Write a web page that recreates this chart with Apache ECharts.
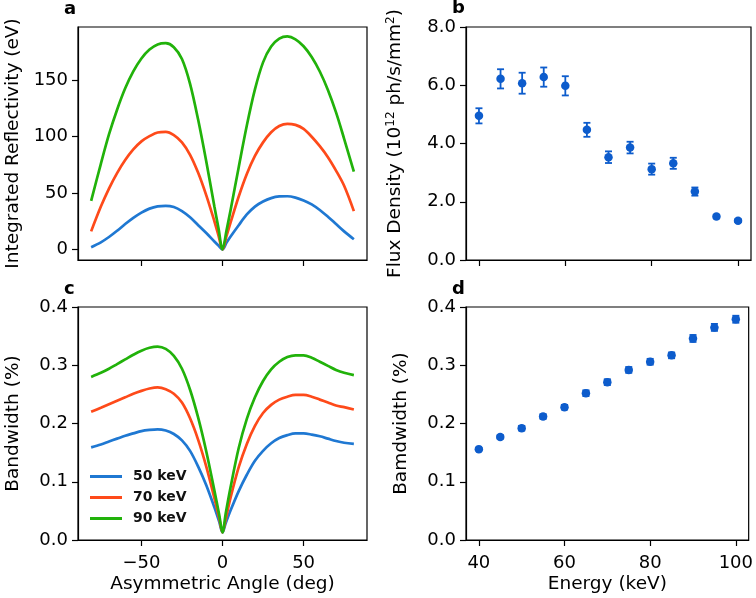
<!DOCTYPE html>
<html><head><meta charset="utf-8">
<script src="https://cdn.jsdelivr.net/npm/echarts@6/dist/echarts.min.js"></script>
<style>html,body{margin:0;padding:0;background:#fff}#c{width:756px;height:598px}</style>
</head><body><div id="c"></div>
<script>
// ---- data ----
const anglesA = [-81,-75,-70,-65,-60,-55,-50,-45,-40,-35,-30,-25,-20,-15,-10,-5,-2.5,0,2.5,5,10,15,20,25,30,35,40,45,50,55,60,65,70,75,81];
const refl50 = [2,6.3,11,16.5,22.5,28,32.7,36.2,38.2,38.7,37.6,34,28.5,21.5,14.5,7,3.4,0,6,11.5,21.5,31,38,42.5,45.5,47,47.2,46,43.5,40,35,29,22.5,16,9];
const refl70 = [16,38,54,67.7,79.3,88.7,95.9,100.5,103.8,104.3,101.5,95,84,68,48,25,12.5,0,12,24,47,67,83,95,104,109.5,111.5,110.5,107,100,91.6,81.9,70,56.5,34];
const refl90 = [43,76,102,124,143,158,169.5,177.4,181.9,183,179.5,169,147,115,78,38,19,0,17,35,73,110,142,166,180,187,189,186.5,180.3,170.8,157.9,141.5,121.6,98.2,69];

const anglesC = [-81,-75,-70,-65,-60,-55,-50,-45,-40,-35,-30,-25,-20,-15,-10,-5,-2,0,2,5,10,15,20,25,30,35,40,45,50,55,60,65,70,75,81];
const bw50 = [0.159,0.164,0.169,0.174,0.179,0.183,0.187,0.189,0.190,0.188,0.182,0.171,0.153,0.126,0.094,0.056,0.031,0.013,0.029,0.051,0.084,0.112,0.136,0.153,0.166,0.175,0.180,0.183,0.183,0.181,0.178,0.174,0.170,0.167,0.165];
const bw70 = [0.220,0.227,0.233,0.239,0.245,0.251,0.256,0.260,0.262,0.259,0.251,0.236,0.209,0.172,0.126,0.072,0.037,0.013,0.036,0.073,0.125,0.165,0.196,0.218,0.232,0.241,0.246,0.249,0.249,0.246,0.241,0.236,0.231,0.228,0.224];
const bw90 = [0.280,0.287,0.294,0.302,0.310,0.318,0.325,0.330,0.332,0.328,0.316,0.294,0.258,0.210,0.152,0.085,0.043,0.013,0.046,0.091,0.158,0.208,0.245,0.273,0.293,0.306,0.314,0.317,0.317,0.313,0.306,0.299,0.292,0.287,0.283];

const energies = [40,45,50,55,60,65,70,75,80,85,90,95,100];
const flux = [4.95,6.22,6.07,6.28,5.98,4.47,3.53,3.86,3.12,3.32,2.35,1.49,1.35];
const fluxErr = [0.26,0.33,0.36,0.33,0.33,0.24,0.20,0.20,0.19,0.19,0.14,0.06,0.05];
const bandwidth = [0.156,0.177,0.192,0.212,0.228,0.252,0.271,0.292,0.306,0.317,0.346,0.365,0.379];
const bandwidthErr = [0.002,0.003,0.004,0.004,0.004,0.005,0.005,0.005,0.005,0.005,0.006,0.006,0.006];

const seriesNames = ['50 keV','70 keV','90 keV'];
const angleTicks = [-50,0,50];
const energyTicks = [40,60,80,100];
const reflTicks = [0,50,100,150];
const fluxTicks = [0,2,4,6,8];
const bwTicks = [0,0.1,0.2,0.3,0.4];

// ---- styles ----
const FONT = 'DejaVu Sans';
const TICK_FS = 18;
const NAME_FS = 18.5;
const SMOOTH = 0.33;
const colors = ['#1f78d2','#fe4a1a','#21b20a'];
const ptColor = '#0d5ccc';

const grids = [
  {left:78, top:27, width:289, height:233},
  {left:466, top:27, width:285, height:233},
  {left:78, top:307, width:289, height:233},
  {left:466, top:307, width:285, height:233}
].map(g => Object.assign(g, {show:true, borderColor:'#000', borderWidth:1.2, backgroundColor:'transparent'}));

function axisBase(ticks, showLabels, fmt, margin) {
  return {
    axisLine: {show:true, onZero:false, lineStyle:{color:'#000', width:1.2}},
    axisTick: {show:true, length:6, lineStyle:{color:'#000', width:1.2}, customValues: ticks},
    axisLabel: {show:showLabels, customValues: ticks, color:'#000', fontFamily:FONT, fontSize:TICK_FS, margin:margin,
      formatter: fmt},
    splitLine: {show:false}
  };
}
const fmtAngle = v => (v < 0 ? '\u2212' + Math.abs(v) : String(v));
const fmt1 = v => v.toFixed(1);
const fmtInt = v => String(v);
const nameStyle = () => ({fontFamily:FONT, fontSize:NAME_FS, color:'#000'});

const xAxes = [
  Object.assign({type:'value', gridIndex:0, min:-89.1, max:89.1}, axisBase(angleTicks, false, fmtAngle, 14)),
  Object.assign({type:'value', gridIndex:1, min:37, max:103}, axisBase(energyTicks, false, fmtInt, 14)),
  Object.assign({type:'value', gridIndex:2, min:-89.1, max:89.1, name:'Asymmetric Angle (deg)', nameLocation:'middle', nameGap:35,
    nameTextStyle:nameStyle()}, axisBase(angleTicks, true, fmtAngle, 14)),
  Object.assign({type:'value', gridIndex:3, min:37, max:103, name:'Energy (keV)', nameLocation:'middle', nameGap:35,
    nameTextStyle:nameStyle()}, axisBase(energyTicks, true, fmtInt, 14))
];
const yName = (gap) => ({nameLocation:'middle', nameGap:gap, nameTextStyle:nameStyle()});
const yAxes = [
  Object.assign({type:'value', gridIndex:0, min:-9.4, max:197.4, name:'Integrated Reflectivity (eV)'}, yName(55), axisBase(reflTicks, true, fmtInt, 10)),
  Object.assign({type:'value', gridIndex:1, min:0, max:8, name:'Flux Density (10{sup|12} ph/s/mm{sup|2})'}, yName(61), axisBase(fluxTicks, true, fmt1, 10)),
  Object.assign({type:'value', gridIndex:2, min:0, max:0.4, name:'Bandwidth (%)'}, yName(55), axisBase(bwTicks, true, fmt1, 10)),
  Object.assign({type:'value', gridIndex:3, min:0, max:0.4, name:'Bamdwidth (%)'}, yName(55), axisBase(bwTicks, true, fmt1, 10))
];
yAxes[1].nameTextStyle.rich = {sup:{fontFamily:FONT, fontSize:12, color:'#000', verticalAlign:'top', padding:[0,0,8,0]}};

const zip = (xs, ys) => xs.map((x,i) => [x, ys[i]]);
const series = [];
[refl50, refl70, refl90].forEach((d,i) => series.push({
  type:'line', name:seriesNames[i], xAxisIndex:0, yAxisIndex:0, data:zip(anglesA, d),
  showSymbol:false, symbol:'none', smooth:SMOOTH, lineStyle:{color:colors[i], width:2.7}, itemStyle:{color:colors[i]}, z:3
}));
[bw50, bw70, bw90].forEach((d,i) => series.push({
  type:'line', name:seriesNames[i], xAxisIndex:2, yAxisIndex:2, data:zip(anglesC, d),
  showSymbol:false, symbol:'none', smooth:SMOOTH, lineStyle:{color:colors[i], width:2.7}, itemStyle:{color:colors[i]}, z:3
}));

function errRender(params, api) {
  const x = api.value(0), lo = api.value(1), hi = api.value(2);
  const p1 = api.coord([x, hi]), p2 = api.coord([x, lo]);
  const cw = 3.5;
  const style = {stroke: ptColor, lineWidth: 1.8};
  return {type:'group', children:[
    {type:'line', shape:{x1:p1[0], y1:p1[1], x2:p2[0], y2:p2[1]}, style:style},
    {type:'line', shape:{x1:p1[0]-cw, y1:p1[1], x2:p1[0]+cw, y2:p1[1]}, style:style},
    {type:'line', shape:{x1:p2[0]-cw, y1:p2[1], x2:p2[0]+cw, y2:p2[1]}, style:style}
  ]};
}
series.push({type:'custom', xAxisIndex:1, yAxisIndex:1, renderItem:errRender,
  data: energies.map((e,i) => [e, flux[i]-fluxErr[i], flux[i]+fluxErr[i]]), encode:{x:0, y:[1,2]}, z:4});
series.push({type:'scatter', xAxisIndex:1, yAxisIndex:1, data:zip(energies, flux), symbol:'circle', symbolSize:8.5,
  itemStyle:{color:ptColor, opacity:1}, z:5});
series.push({type:'custom', xAxisIndex:3, yAxisIndex:3, renderItem:errRender,
  data: energies.map((e,i) => [e, bandwidth[i]-bandwidthErr[i], bandwidth[i]+bandwidthErr[i]]), encode:{x:0, y:[1,2]}, z:4});
series.push({type:'scatter', xAxisIndex:3, yAxisIndex:3, data:zip(energies, bandwidth), symbol:'circle', symbolSize:8.5,
  itemStyle:{color:ptColor, opacity:1}, z:5});

const panelLabel = (t, x, y) => ({type:'text', left:x, top:y, style:{text:t, font:'bold 18px "DejaVu Sans"', fill:'#000'}});

const option = {
  animation:false,
  backgroundColor:'#fff',
  grid: grids,
  xAxis: xAxes,
  yAxis: yAxes,
  legend: {orient:'vertical', left:90, top:469, padding:0, itemWidth:32, itemHeight:3, itemGap:6, icon:'rect',
    data: seriesNames, selectedMode:false,
    textStyle:{fontFamily:FONT, fontSize:14, fontWeight:'bold', color:'#111', padding:[0,0,0,6], lineHeight:15}},
  graphic: [panelLabel('a', 64, 0), panelLabel('b', 452, -1), panelLabel('c', 64, 280), panelLabel('d', 452, 280)],
  series: series
};
const chart = echarts.init(document.getElementById('c'), null, {renderer:'canvas'});
chart.setOption(option);
</script>
</body></html>
